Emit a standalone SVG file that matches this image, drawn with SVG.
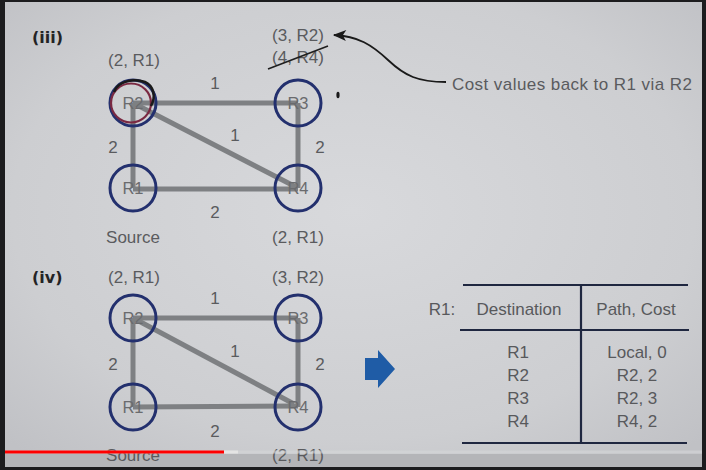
<svg xmlns="http://www.w3.org/2000/svg" width="706" height="470" viewBox="0 0 706 470">
<defs>
<radialGradient id="bg" cx="0.5" cy="0.45" r="0.7">
<stop offset="0" stop-color="#d8d9dc"/>
<stop offset="0.7" stop-color="#cdced1"/>
<stop offset="1" stop-color="#c0c1c5"/>
</radialGradient>
<marker id="ah" viewBox="0 0 12 10" refX="11" refY="5" markerWidth="14" markerHeight="11" markerUnits="userSpaceOnUse" orient="auto">
<path d="M0,0 L12,5 L0,10 L3,5 Z" fill="#1a1a1a"/>
</marker>
</defs>
<style>
.t{font-family:"Liberation Sans","Noto Sans",sans-serif;fill:#5a5b5e;font-size:17px;text-anchor:middle}
.n{font-family:"Liberation Sans","Noto Sans",sans-serif;fill:#6a6b6e;font-size:16.5px;text-anchor:middle}
.b{font-family:"DejaVu Sans","Liberation Sans",sans-serif;font-weight:bold;fill:#232325;font-size:16px}
.e{stroke:#7e8083;stroke-width:5;fill:none;stroke-linecap:butt}
.c{fill:none;stroke:#23306e;stroke-width:3}
.tl{stroke:#1f2740;stroke-width:2.2}
.tt{font-family:"Liberation Sans","Noto Sans",sans-serif;fill:#58595c;font-size:17px;text-anchor:middle}
</style>
<rect x="0" y="0" width="706" height="470" fill="#1c1c1e"/>
<rect x="5" y="2" width="697" height="465" fill="url(#bg)"/>
<rect x="5" y="454" width="697" height="13" fill="#b4b5b8"/>

<g id="panel-iii">
<text class="b" x="32" y="43">(iii)</text>
<g id="edges-iii">
<line class="e" x1="133" y1="103" x2="298" y2="103"/>
<line class="e" x1="133" y1="103" x2="133" y2="188"/>
<line class="e" x1="298" y1="103" x2="298" y2="188"/>
<line class="e" x1="133" y1="189" x2="298" y2="189"/>
<line class="e" x1="135" y1="104" x2="296" y2="187"/>
</g>
<g id="iii-R2"><circle class="c" cx="133" cy="103" r="23"/><text class="n" x="133" y="109">R2</text></g>
<g id="iii-R3"><circle class="c" cx="298" cy="103" r="23"/><text class="n" x="298" y="109">R3</text></g>
<g id="iii-R1"><circle class="c" cx="133" cy="188" r="23"/><text class="n" x="133" y="194">R1</text></g>
<g id="iii-R4"><circle class="c" cx="298" cy="188" r="23"/><text class="n" x="298" y="194">R4</text></g>
<ellipse cx="131" cy="103" rx="20" ry="19.5" fill="none" stroke="#7a2942" stroke-width="2.2"/>
<path d="M114,92 C118,81 134,78 145,82 C154,86 156,97 151,106" fill="none" stroke="#1a1a1a" stroke-width="2.5"/>
<text class="t" x="215" y="89">1</text>
<text class="t" x="235" y="141">1</text>
<text class="t" x="113" y="153">2</text>
<text class="t" x="320" y="153">2</text>
<text class="t" x="215" y="218">2</text>
<text class="t" x="134" y="66">(2, R1)</text>
<text class="t" x="298" y="41">(3, R2)</text>
<text class="t" x="298" y="63">(4, R4)</text>
<line x1="268" y1="69" x2="328" y2="46" stroke="#1e1e1e" stroke-width="1.6"/>
<text class="t" x="133" y="243">Source</text>
<text class="t" x="298" y="243">(2, R1)</text>
<ellipse cx="338" cy="95" rx="1.6" ry="3.2" fill="#1a1a1a"/>
<g id="annotation">
<path d="M446,82 C418,82 405,76 388,60 C372,45 358,36 334,35" fill="none" stroke="#1a1a1a" stroke-width="1.8" marker-end="url(#ah)"/>
<text class="t" x="452" y="90" font-size="17.5" style="text-anchor:start" textLength="240">Cost values back to R1 via R2</text>
</g>
</g>

<g id="panel-iv">
<text class="b" x="32" y="283">(iv)</text>
<g id="edges-iv">
<line class="e" x1="133" y1="318" x2="298" y2="318"/>
<line class="e" x1="133" y1="318" x2="133" y2="407"/>
<line class="e" x1="298" y1="318" x2="298" y2="407"/>
<line class="e" x1="133" y1="407" x2="298" y2="406"/>
<line class="e" x1="135" y1="319" x2="294" y2="404"/>
</g>
<g id="iv-R2"><circle class="c" cx="133" cy="318" r="23"/><text class="n" x="133" y="324">R2</text></g>
<g id="iv-R3"><circle class="c" cx="298" cy="318" r="23"/><text class="n" x="298" y="324">R3</text></g>
<g id="iv-R1"><circle class="c" cx="133" cy="407" r="23"/><text class="n" x="133" y="413">R1</text></g>
<g id="iv-R4"><circle class="c" cx="298" cy="407" r="23"/><text class="n" x="298" y="413">R4</text></g>
<text class="t" x="215" y="304">1</text>
<text class="t" x="235" y="357">1</text>
<text class="t" x="113" y="370">2</text>
<text class="t" x="320" y="370">2</text>
<text class="t" x="215" y="437">2</text>
<text class="t" x="134" y="283">(2, R1)</text>
<text class="t" x="298" y="283">(3, R2)</text>
<text class="t" x="133" y="461">Source</text>
<text class="t" x="298" y="461">(2, R1)</text>
</g>

<g id="blue-arrow">
<polygon points="365,358 378,358 378,350 395,369 378,388 378,380 365,380" fill="#1f5ca6"/>
</g>

<g id="table">
<line class="tl" x1="463" y1="285" x2="688" y2="285"/>
<line class="tl" x1="460" y1="330" x2="689" y2="330"/>
<line class="tl" x1="462" y1="443" x2="687" y2="443"/>
<line class="tl" x1="581" y1="285" x2="581" y2="443"/>
<text class="tt" x="442" y="315">R1:</text>
<text class="tt" x="519" y="315">Destination</text>
<text class="tt" x="636" y="315">Path, Cost</text>
<text class="tt" x="518" y="358">R1</text>
<text class="tt" x="518" y="381">R2</text>
<text class="tt" x="518" y="404">R3</text>
<text class="tt" x="518" y="427">R4</text>
<text class="tt" x="637" y="358">Local, 0</text>
<text class="tt" x="637" y="381">R2, 2</text>
<text class="tt" x="637" y="404">R2, 3</text>
<text class="tt" x="637" y="427">R4, 2</text>
</g>

<g id="progress">
<rect x="5" y="450.5" width="697" height="3" fill="#d6d7d9" opacity="0.6"/>
<rect x="224" y="450.5" width="14" height="3" fill="#e4e4e4"/>
<rect x="5" y="450.5" width="219" height="3" fill="#f00"/>
</g>
</svg>
